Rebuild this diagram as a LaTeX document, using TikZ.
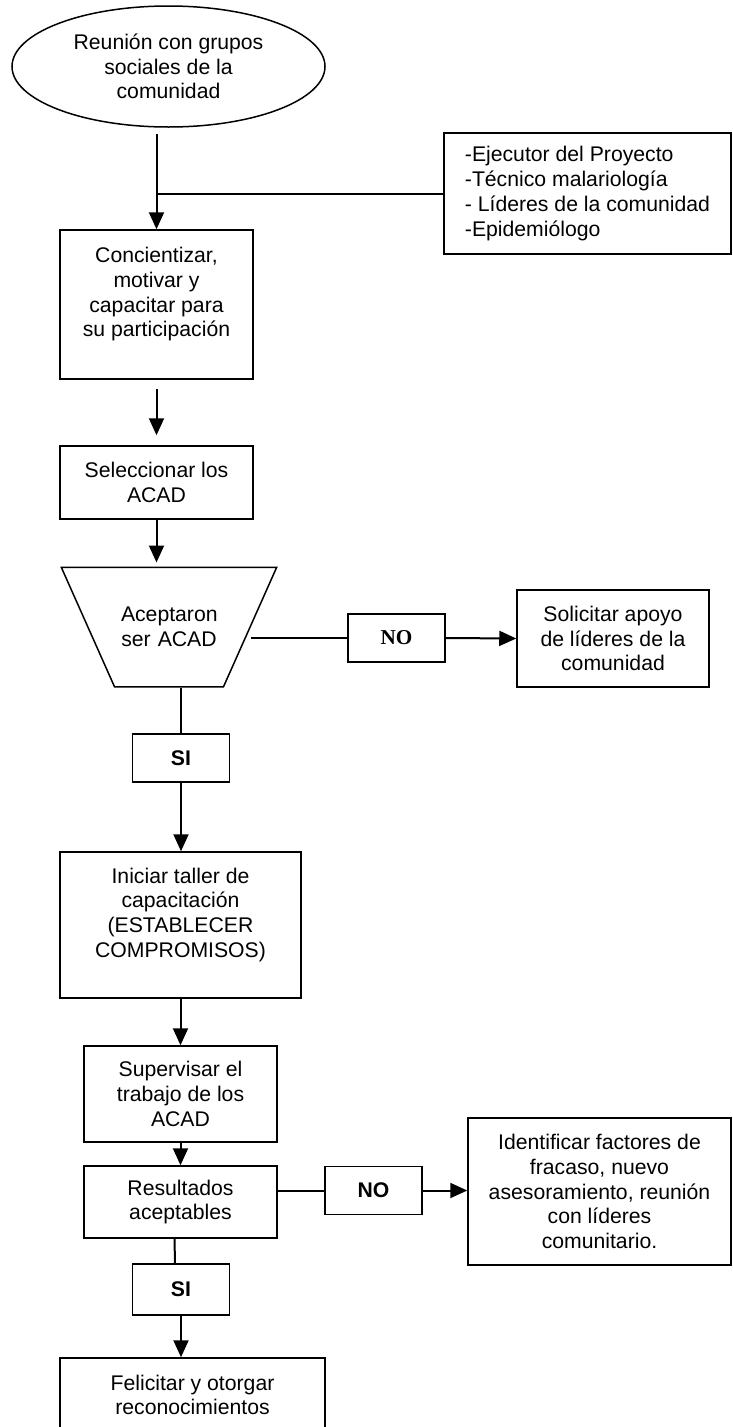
\documentclass[tikz,border=0pt]{standalone}
\usepackage{fontspec}
\setmainfont{Liberation Sans}
\newfontfamily\timesfont{Liberation Serif}
\usetikzlibrary{shapes.geometric,arrows.meta}
\newcommand\chartsize{\fontsize{21.2}{24.7}\selectfont}

\begin{document}
\begin{tikzpicture}[x=1pt,y=-1pt,
  every node/.style={font=\chartsize, align=center, inner sep=0pt},
  box/.style={draw, line width=1.5pt},
  ell/.style={ellipse, draw, line width=1.5pt, minimum width=313, minimum height=121},
  tag/.style={draw, line width=1.5pt, minimum width=97, minimum height=48, font=\chartsize\bfseries},
  line/.style={line width=2pt},
  flow/.style={line width=2pt, -{Triangle[length=17pt,width=15pt]}}]
  \useasboundingbox (0,0) rectangle (732,1427);

  \node[ell] (reunion) at (168.5,66.5) {Reunión con grupos\\sociales de la\\comunidad};
  \node[box, minimum width=287, minimum height=121, align=left] (equipo) at (587.5,193.5)
    {-Ejecutor del Proyecto\\-Técnico malariología\\- Líderes de la comunidad\\-Epidemiólogo};
  \node[box, minimum width=193, minimum height=149] (concientizar) at (156.5,304.5)
    {Concientizar,\\motivar y\\capacitar para\\su participación\\\mbox{}};
  \node[box, minimum width=193, minimum height=73] (seleccionar) at (156.5,482.5) {Seleccionar los\\ACAD};
  \node[trapezium, draw, line width=1.5pt, shape border rotate=180, trapezium angle=66,
    text width=96, inner xsep=6.5, inner ysep=40] (aceptaron) at (169,627) {Aceptaron\\ser ACAD};
  \node[tag, font=\chartsize\timesfont\bfseries] (no1) at (396.5,638) {NO};
  \node[box, minimum width=192, minimum height=97] (solicitar) at (613,638.5)
    {Solicitar apoyo\\de líderes de la\\comunidad};
  \node[tag] (si1) at (181,758) {SI};
  \node[box, minimum width=241, minimum height=146] (iniciar) at (180.5,925)
    {Iniciar taller de\\capacitación\\(ESTABLECER\\COMPROMISOS)\\\mbox{}};
  \node[box, minimum width=193, minimum height=96] (supervisar) at (180.5,1094)
    {Supervisar el\\trabajo de los\\ACAD};
  \node[box, minimum width=193, minimum height=72] (resultados) at (180.5,1202) {Resultados\\aceptables};
  \node[tag] (no2) at (373.5,1190.5) {NO};
  \node[box, minimum width=263, minimum height=147] (identificar) at (599.5,1191.5)
    {Identificar factores de\\fracaso, nuevo\\asesoramiento, reunión\\con líderes\\comunitario.};
  \node[tag, minimum height=51] (si2) at (181,1289.5) {SI};
  \node[box, minimum width=265, minimum height=74] (felicitar) at (192.5,1395)
    {Felicitar y otorgar\\reconocimientos};

  \draw[flow, shorten <=6pt] (concientizar.north |- reunion.south) -- (concientizar.north);
  \draw[line] (concientizar.north |- equipo.west) -- (equipo.west);
  \draw[flow, shorten <=9pt, shorten >=10pt] (concientizar.south) -- (seleccionar.north);
  \draw[flow, shorten >=4pt] (seleccionar.south) -- (seleccionar.south |- aceptaron.north);
  \draw[line] (no1.west -| aceptaron.east) -- (no1.west);
  \draw[flow] (no1.east) -- (solicitar.west);
  \draw[line] (si1.north |- aceptaron.south) -- (si1.north);
  \draw[flow] (si1.south) -- (si1.south |- iniciar.north);
  \draw[flow] (iniciar.south) -- (supervisar.north);
  \draw[flow] (supervisar.south) -- (resultados.north);
  \draw[line] (resultados.east |- no2.west) -- (no2.west);
  \draw[flow] (no2.east) -- (no2.east -| identificar.west);
  \draw[line] ([xshift=-6pt]resultados.south) -- ([xshift=-6pt]si2.north);
  \draw[flow] (si2.south) -- (si2.south |- felicitar.north);
\end{tikzpicture}
\end{document}
